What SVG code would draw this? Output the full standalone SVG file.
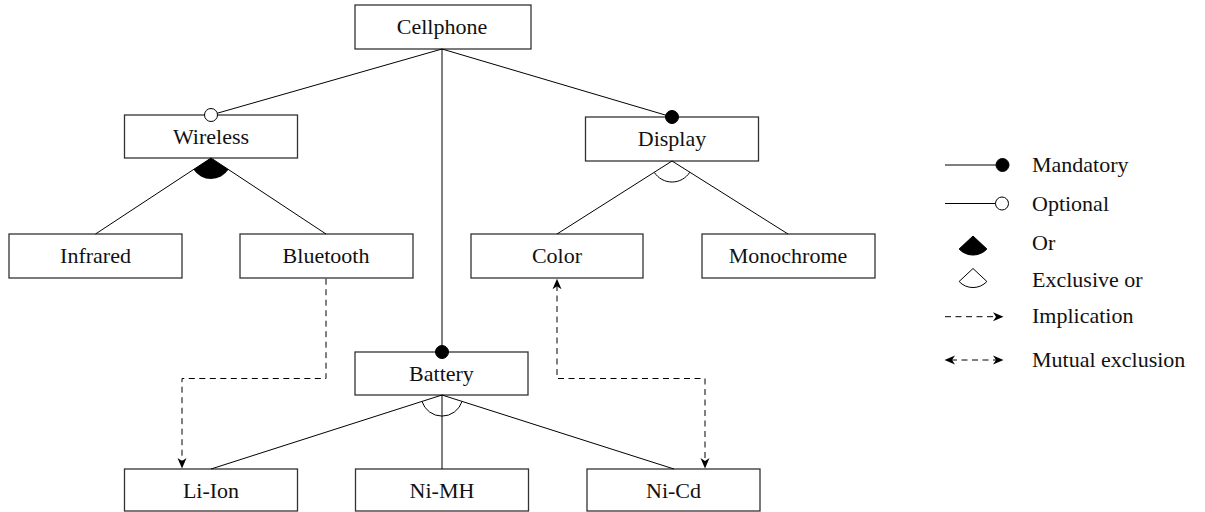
<svg xmlns="http://www.w3.org/2000/svg" width="1205" height="512" viewBox="0 0 1205 512">
<style>
.box{fill:#fff;stroke:#333;stroke-width:1.3}
.lbl{font-family:'Liberation Serif','DejaVu Serif',serif;font-size:22px;fill:#111;text-anchor:middle}
.leg{font-family:'Liberation Serif','DejaVu Serif',serif;font-size:22px;fill:#111}
.ln{fill:none;stroke:#000;stroke-width:1}
.dash{fill:none;stroke:#000;stroke-width:1;stroke-dasharray:6 4.5}
.mand{fill:#000;stroke:#000;stroke-width:1}
.opt{fill:#fff;stroke:#000;stroke-width:1}
.arr{fill:#000;stroke:none}
</style>
<g id="cellphone"><rect class="box" x="355" y="5" width="176" height="44"/><text class="lbl" x="442" y="34">Cellphone</text></g>
<g id="wireless"><rect class="box" x="124.5" y="115" width="173" height="43"/><text class="lbl" x="211" y="144">Wireless</text></g>
<g id="display"><rect class="box" x="585.5" y="117" width="173" height="44"/><text class="lbl" x="672" y="146">Display</text></g>
<g id="infrared"><rect class="box" x="9" y="234" width="173" height="44"/><text class="lbl" x="95.5" y="263">Infrared</text></g>
<g id="bluetooth"><rect class="box" x="240" y="234" width="173" height="44"/><text class="lbl" x="326" y="263">Bluetooth</text></g>
<g id="color"><rect class="box" x="471" y="234" width="172" height="44"/><text class="lbl" x="557" y="263">Color</text></g>
<g id="monochrome"><rect class="box" x="702" y="234" width="173" height="44"/><text class="lbl" x="788" y="263">Monochrome</text></g>
<g id="battery"><rect class="box" x="355" y="352" width="173" height="43"/><text class="lbl" x="441.5" y="381">Battery</text></g>
<g id="liion"><rect class="box" x="124.5" y="469" width="173" height="42"/><text class="lbl" x="211" y="498">Li-Ion</text></g>
<g id="nimh"><rect class="box" x="355.5" y="469" width="173" height="42"/><text class="lbl" x="442" y="498">Ni-MH</text></g>
<g id="nicd"><rect class="box" x="587" y="469" width="173" height="42"/><text class="lbl" x="673.5" y="498">Ni-Cd</text></g>
<g id="connectors">
<line class="ln" x1="442" y1="49" x2="211" y2="115"/>
<line class="ln" x1="442" y1="49" x2="672" y2="117"/>
<line class="ln" x1="442" y1="49" x2="442" y2="352"/>
<line class="ln" x1="211" y1="158" x2="95.5" y2="234"/>
<line class="ln" x1="211" y1="158" x2="326" y2="234"/>
<path d="M211,158 L193.5,169.5 A21,21 0 0 0 228.5,169.6 Z" fill="#000"/>
<line class="ln" x1="672" y1="161" x2="557" y2="234"/>
<line class="ln" x1="672" y1="161" x2="788" y2="234"/>
<path class="ln" d="M654.3,172.3 A21,21 0 0 0 689.8,172.2"/>
<line class="ln" x1="442" y1="395" x2="211" y2="469"/>
<line class="ln" x1="442" y1="395" x2="442" y2="469"/>
<line class="ln" x1="442" y1="395" x2="674" y2="469"/>
<path class="ln" d="M422,401.5 A21,21 0 0 0 462,401.5"/>
<circle class="opt" cx="211" cy="115" r="6.5"/>
<circle class="mand" cx="672" cy="117" r="6.5"/>
<circle class="mand" cx="442" cy="352" r="6.5"/>
<path class="dash" d="M326,278.7 V378.5 H182 V462"/>
<path class="arr" d="M182,468.5 L177.5,458 L182,461 L186.5,458 Z"/>
<path class="dash" d="M557,285 V378.5 H705 V462"/>
<path class="arr" d="M557,278.7 L552.5,289.2 L557,286.2 L561.5,289.2 Z"/>
<path class="arr" d="M705,468.5 L700.5,458 L705,461 L709.5,458 Z"/>
</g>
<g id="legend">
<line class="ln" x1="945" y1="165" x2="996" y2="165"/>
<circle class="mand" cx="1002.5" cy="165" r="6.5"/>
<text class="leg" x="1032" y="172">Mandatory</text>
<line class="ln" x1="945" y1="203.5" x2="995.5" y2="203.5"/>
<circle class="opt" cx="1002" cy="203.5" r="6.5"/>
<text class="leg" x="1032" y="210.5">Optional</text>
<path d="M973,236 L959.1,249 A19,19 0 0 0 986.9,249 Z" fill="#000" stroke="#000" stroke-width="1"/>
<text class="leg" x="1032" y="250">Or</text>
<path d="M973,268.5 L959.1,281.5 A19,19 0 0 0 986.9,281.5 Z" fill="#fff" stroke="#000" stroke-width="1"/>
<text class="leg" x="1032" y="287">Exclusive or</text>
<line class="dash" x1="945" y1="316.7" x2="996" y2="316.7"/>
<path class="arr" d="M1003.5,316.7 L993,312.2 L996,316.7 L993,321.2 Z"/>
<text class="leg" x="1032" y="322.5">Implication</text>
<line class="dash" x1="951" y1="360" x2="997" y2="360"/>
<path class="arr" d="M1003.5,360 L993,355.5 L996,360 L993,364.5 Z"/>
<path class="arr" d="M944.5,360 L955,355.5 L952,360 L955,364.5 Z"/>
<text class="leg" x="1032" y="366.5">Mutual exclusion</text>
</g>
</svg>
